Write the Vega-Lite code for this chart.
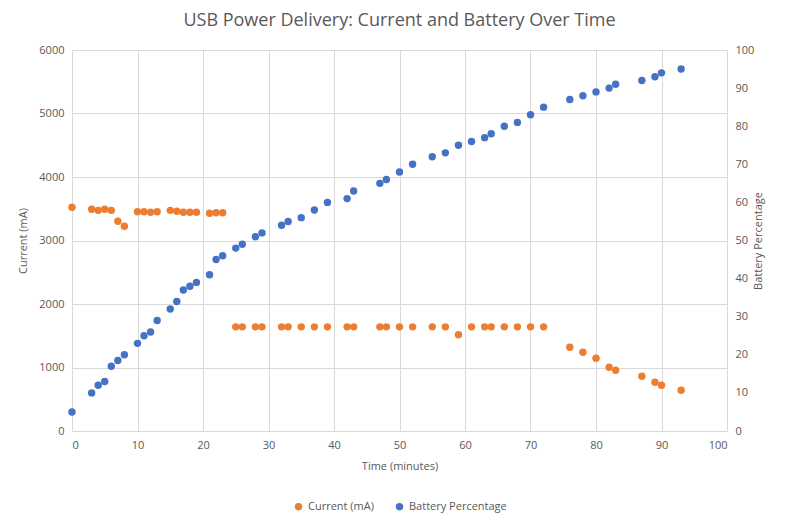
{
  "$schema": "https://vega.github.io/schema/vega-lite/v6.json",
  "width": 655,
  "height": 381,
  "autosize": {"type": "none"},
  "padding": {"left": 72, "top": 50, "right": 67, "bottom": 91},
  "background": "white",
  "title": {"text": "USB Power Delivery: Current and Battery Over Time", "fontSize": 18, "font": "Open Sans", "fontWeight": "normal", "color": "#595959", "offset": 14},
  "config": {
    "view": {"stroke": null},
    "axis": {"labelFont": "Open Sans", "titleFont": "Open Sans", "labelColor": "#595959", "titleColor": "#595959", "labelFontSize": 11, "titleFontSize": 11, "titleFontWeight": "normal", "gridColor": "#d9d9d9", "domain": false, "ticks": false, "labelPadding": 8},
    "legend": {"layout": {"bottom": {"anchor": "middle"}}}
  },
  "data": {"values": [
    {"t": 0, "c": 3523, "b": 5}, {"t": 3, "c": 3491, "b": 10}, {"t": 4, "c": 3475, "b": 12},
    {"t": 5, "c": 3491, "b": 13}, {"t": 6, "c": 3475, "b": 17}, {"t": 7, "c": 3302, "b": 18.5},
    {"t": 8, "c": 3224, "b": 20}, {"t": 10, "c": 3454, "b": 23}, {"t": 11, "c": 3454, "b": 25},
    {"t": 12, "c": 3444, "b": 26}, {"t": 13, "c": 3454, "b": 29}, {"t": 15, "c": 3475, "b": 32},
    {"t": 16, "c": 3460, "b": 34}, {"t": 17, "c": 3444, "b": 37}, {"t": 18, "c": 3444, "b": 38},
    {"t": 19, "c": 3444, "b": 39}, {"t": 21, "c": 3428, "b": 41}, {"t": 22, "c": 3438, "b": 45},
    {"t": 23, "c": 3438, "b": 46}, {"t": 25, "c": 1640, "b": 48}, {"t": 26, "c": 1640, "b": 49},
    {"t": 28, "c": 1640, "b": 51}, {"t": 29, "c": 1640, "b": 52}, {"t": 32, "c": 1640, "b": 54},
    {"t": 33, "c": 1640, "b": 55}, {"t": 35, "c": 1640, "b": 56}, {"t": 37, "c": 1640, "b": 58},
    {"t": 39, "c": 1640, "b": 60}, {"t": 42, "c": 1640, "b": 61}, {"t": 43, "c": 1640, "b": 63},
    {"t": 47, "c": 1640, "b": 65}, {"t": 48, "c": 1640, "b": 66}, {"t": 50, "c": 1640, "b": 68},
    {"t": 52, "c": 1640, "b": 70}, {"t": 55, "c": 1640, "b": 72}, {"t": 57, "c": 1640, "b": 73},
    {"t": 59, "c": 1517, "b": 75}, {"t": 61, "c": 1640, "b": 76}, {"t": 63, "c": 1640, "b": 77},
    {"t": 64, "c": 1640, "b": 78}, {"t": 66, "c": 1640, "b": 80}, {"t": 68, "c": 1640, "b": 81},
    {"t": 70, "c": 1640, "b": 83}, {"t": 72, "c": 1640, "b": 85}, {"t": 76, "c": 1318, "b": 87},
    {"t": 78, "c": 1239, "b": 88}, {"t": 80, "c": 1145, "b": 89}, {"t": 82, "c": 1003, "b": 90},
    {"t": 83, "c": 956, "b": 91}, {"t": 87, "c": 861, "b": 92}, {"t": 89, "c": 767, "b": 93},
    {"t": 90, "c": 720, "b": 94}, {"t": 93, "c": 641, "b": 95}
  ]},
  "encoding": {
    "x": {"field": "t", "type": "quantitative", "title": "Time (minutes)", "scale": {"domain": [0, 100], "nice": false}, "axis": {"values": [0,10,20,30,40,50,60,70,80,90,100], "titlePadding": 10}}
  },
  "layer": [
    {
      "mark": {"type": "circle", "size": 55, "opacity": 1},
      "encoding": {
        "y": {"field": "c", "type": "quantitative", "title": "Current (mA)", "scale": {"domain": [0, 6000], "nice": false}, "axis": {"values": [0,1000,2000,3000,4000,5000,6000], "format": "d", "titlePadding": 10}},
        "color": {"datum": "Current (mA)", "type": "nominal", "scale": {"domain": ["Current (mA)", "Battery Percentage"], "range": ["#ED7D31", "#4472C4"]},
          "legend": {"title": null, "orient": "bottom", "direction": "horizontal", "symbolType": "circle", "symbolSize": 55, "labelFont": "Open Sans", "labelFontSize": 11, "labelColor": "#595959", "offset": 30, "columnPadding": 20}}
      }
    },
    {
      "mark": {"type": "circle", "size": 55, "opacity": 1},
      "encoding": {
        "y": {"field": "b", "type": "quantitative", "title": "Battery Percentage", "scale": {"domain": [0, 100], "nice": false}, "axis": {"orient": "right", "values": [0,10,20,30,40,50,60,70,80,90,100], "grid": false, "titlePadding": 10, "titleAngle": 270}},
        "color": {"datum": "Battery Percentage", "type": "nominal"}
      }
    }
  ],
  "resolve": {"scale": {"y": "independent"}}
}
